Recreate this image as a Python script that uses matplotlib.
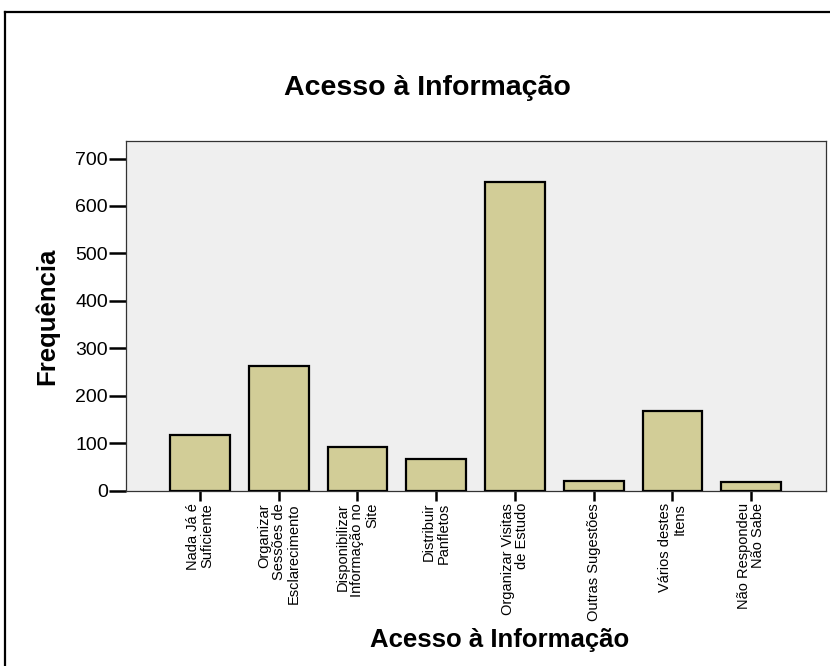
import matplotlib
matplotlib.use("Agg")
import matplotlib.pyplot as plt
import numpy as np

plt.rcParams['font.family'] = ['Liberation Sans', 'DejaVu Sans']

categories = ["Nada Já é\nSuficiente",
              "Organizar\nSessões de\nEsclarecimento",
              "Disponibilizar\nInformação no\nSite",
              "Distribuir\nPanfletos",
              "Organizar Visitas\nde Estudo",
              "Outras Sugestões",
              "Vários destes\nItens",
              "Não Respondeu\nNão Sabe"]
counts = [116, 262, 91, 66, 651, 19, 167, 17]
yticks = [0, 100, 200, 300, 400, 500, 600, 700]

fig = plt.figure(figsize=(8.3, 6.66), dpi=100)
ax = fig.add_axes([126/830, 1 - 490.5/666, 700/830, 349.5/666])

x = np.arange(len(categories))
ax.bar(x, counts, width=0.76, color="#D2CD97", edgecolor="black", linewidth=1.6, zorder=3)

ax.set_facecolor("#EFEFEF")
ax.set_xlim(-0.94, 7.95)
ax.set_ylim(0, 737)
ax.set_yticks(yticks)
ax.set_xticks(x)
ax.set_xticklabels(categories, rotation=90, ha="center", va="top",
                   multialignment="right", fontsize=10.5, linespacing=1.05)
ax.tick_params(axis="y", length=12, width=1.8, labelsize=14, pad=1, direction="out")
ax.tick_params(axis="x", length=7, width=1.8, pad=2, direction="out")
for s in ax.spines.values():
    s.set_linewidth(0.9)
    s.set_color("#333333")

ax.set_ylabel("Frequência", fontsize=18.5, fontweight="bold")
ax.yaxis.set_label_coords((47 - 126)/700, (490.5 - 316)/349.5)
ax.set_xlabel("Acesso à Informação", fontsize=18.5, fontweight="bold")
ax.xaxis.set_label_coords((500 - 126)/700, -(640 - 490.5)/349.5)
ax.xaxis.label.set_va("center")
ax.yaxis.label.set_va("center")
fig.text(0.515, 1 - 88/666, "Acesso à Informação", ha="center", va="center",
         fontsize=20.5, fontweight="bold")

# outer frame
fig.add_artist(plt.Line2D([5/830, 5/830], [0, 1 - 12/666], color="black", lw=1.6,
                          transform=fig.transFigure))
fig.add_artist(plt.Line2D([5/830, 1], [1 - 12/666, 1 - 12/666], color="black", lw=1.6,
                          transform=fig.transFigure))

fig.savefig("out.png", dpi=100)
